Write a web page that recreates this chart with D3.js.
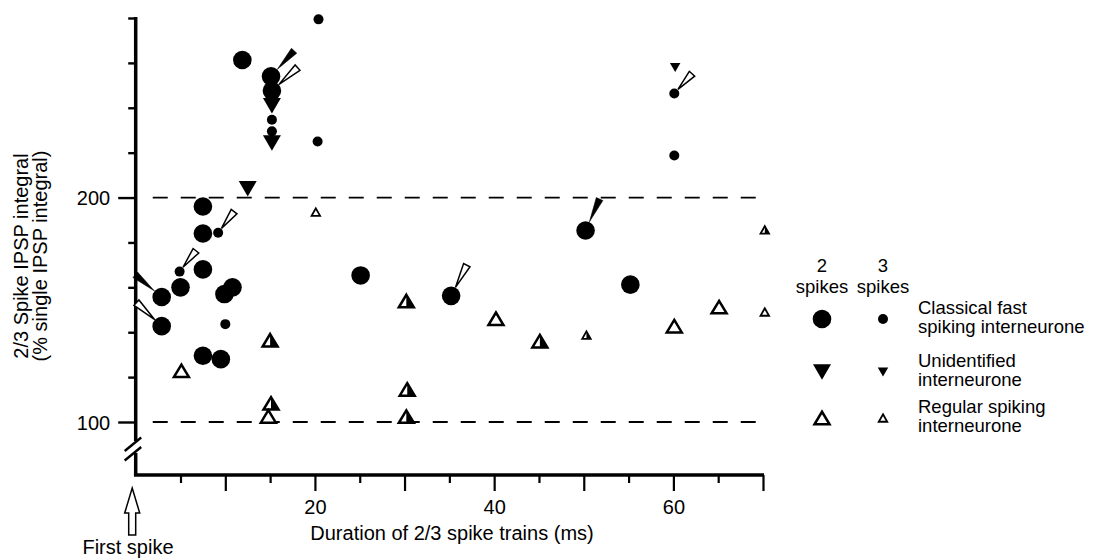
<!DOCTYPE html>
<html>
<head>
<meta charset="utf-8">
<script src="https://cdn.jsdelivr.net/npm/d3@7"></script>
<style>
  body { margin: 0; background: #fff; }
  svg { display: block; font-family: 'Liberation Sans', Arial, Helvetica, sans-serif; }
</style>
</head>
<body>
<svg id="chart" width="1097" height="560"></svg>
<script>
// [duration of 2/3 spike train (ms), 2/3 spike IPSP integral (% single IPSP integral)]
const fastTwo = [
  [2.9, 155.7], [2.9, 142.7], [5.0, 160.0], [7.5, 196.0], [7.5, 184.0],
  [7.5, 168.0], [7.5, 129.5], [9.5, 128.0], [9.9, 157.0], [10.8, 160.0],
  [11.9, 261.3], [15.1, 254.0], [15.2, 247.6], [25.1, 165.3], [35.2, 156.2],
  [50.2, 185.3], [55.2, 161.2],
];
const fastThree = [
  [4.9, 167.0], [9.2, 184.3], [10.0, 143.6], [15.2, 234.7], [15.2, 229.5],
  [20.3, 225.0], [20.4, 279.4], [60.1, 246.4], [60.1, 218.7],
];
const unidTwo = [[12.5, 203.9], [15.2, 240.9], [15.2, 224.3]];
const unidThree = [[60.2, 258.0]];
const regularTwo = [[5.1, 122.8], [14.8, 102.5], [40.2, 146.0], [60.1, 142.7], [65.1, 151.2]];
const regularThree = [[20.1, 193.5], [70.2, 149.0]];
const halfTwo = [[15.0, 136.4], [15.1, 108.3], [30.2, 153.9], [30.3, 114.5], [30.2, 102.4], [45.1, 136.0]];
const halfThree = [[50.3, 138.7], [70.2, 185.6]];

// identification pointers drawn next to some points (angle in degrees on screen)
const pointers = [
  { x: 2.9, y: 155.7, kind: 'filled', big: true, angle: -140 },
  { x: 2.9, y: 142.7, kind: 'open', big: true, angle: -137 },
  { x: 4.9, y: 167.0, kind: 'open', big: false, angle: -52 },
  { x: 9.2, y: 184.3, kind: 'open', big: false, angle: -53 },
  { x: 15.1, y: 254.0, kind: 'filled', big: true, angle: -48 },
  { x: 15.2, y: 247.6, kind: 'open', big: true, angle: -42 },
  { x: 35.2, y: 156.2, kind: 'open', big: true, angle: -63 },
  { x: 50.2, y: 185.3, kind: 'filled', big: true, angle: -66 },
  { x: 60.1, y: 246.4, kind: 'open', big: false, angle: -48 },
];

const refLines = [100, 200];
const xTicks = d3.range(5, 75, 5);
const yTicks = d3.range(100, 281, 20);
const legendCols = ['2', '3'];
const legendRows = [
  { shape: 'circle', label: ['Classical fast', 'spiking interneurone'] },
  { shape: 'down', label: ['Unidentified', 'interneurone'] },
  { shape: 'open', label: ['Regular spiking', 'interneurone'] },
];

const series = [
  { data: halfTwo, shape: 'half', big: true },
  { data: halfThree, shape: 'half', big: false },
  { data: regularTwo, shape: 'open', big: true },
  { data: regularThree, shape: 'open', big: false },
  { data: fastTwo, shape: 'circle', big: true },
  { data: fastThree, shape: 'circle', big: false },
  { data: unidTwo, shape: 'down', big: true },
  { data: unidThree, shape: 'down', big: false },
];

const svg = d3.select('#chart');
const x = d3.scaleLinear().domain([0, 70]).range([135.7, 763]);
const y = d3.scaleLinear().domain([100, 280]).range([422, 18]);
const axisX = x(0);
const axisY = y(100) + 53;

const drawMarker = (g, shape, big) => {
  if (shape === 'circle') {
    g.append('circle').attr('r', big ? 9.3 : 5).attr('fill', '#000');
  } else if (shape === 'down') {
    const w = big ? 18 : 10.5;
    const h = big ? 15.5 : 9;
    g.append('path').attr('d', `M${-w / 2},${-h / 2}H${w / 2}L0,${h / 2}Z`).attr('fill', '#000');
  } else {
    const w = big ? 15 : 8.5;
    const h = big ? 12.5 : 7.5;
    g.append('path')
      .attr('d', `M0,${-h / 2}L${w / 2},${h / 2}H${-w / 2}Z`)
      .attr('fill', '#fff');
    if (shape === 'half') {
      g.append('path').attr('d', `M0,${-h / 2}L${w / 2},${h / 2}H0Z`).attr('fill', '#000');
    }
    g.append('path')
      .attr('d', `M0,${-h / 2}L${w / 2},${h / 2}H${-w / 2}Z`)
      .attr('fill', 'none')
      .attr('stroke', '#000')
      .attr('stroke-width', big ? 2.5 : 1.8);
  }
};

// x axis
const gx = svg.append('g')
  .attr('transform', `translate(0,${axisY})`)
  .call(d3.axisBottom(x).tickValues(xTicks).tickSize(0).tickFormat((d) => (d % 20 === 0 ? d : '')));
gx.attr('font-family', null).attr('font-size', null);
gx.select('.domain').remove();
gx.selectAll('.tick line')
  .attr('y2', (d) => (d % 10 === 0 ? 16 : 8))
  .attr('stroke', '#000')
  .attr('stroke-width', 2.2);
gx.selectAll('.tick text')
  .attr('y', 39)
  .attr('dy', 0)
  .attr('fill', '#000')
  .style('font-size', '20px');

// y axis
const gy = svg.append('g')
  .attr('transform', `translate(${axisX},0)`)
  .call(d3.axisLeft(y).tickValues(yTicks).tickSize(0).tickFormat((d) => (d % 100 === 0 ? d : '')));
gy.attr('font-family', null).attr('font-size', null);
gy.select('.domain').remove();
gy.selectAll('.tick line')
  .attr('x2', (d) => (d % 100 === 0 ? -17.5 : -7.5))
  .attr('stroke', '#000')
  .attr('stroke-width', 2.4);
gy.selectAll('.tick text')
  .attr('x', -25.5)
  .attr('dy', '0.35em')
  .attr('fill', '#000')
  .style('font-size', '20px');

// axis lines with the break on y
const axes = svg.append('g').attr('stroke', '#000').attr('fill', 'none');
axes.append('line')
  .attr('x1', axisX).attr('x2', axisX)
  .attr('y1', y(280) - 1).attr('y2', y(100) + 19)
  .attr('stroke-width', 3.5);
axes.append('line')
  .attr('x1', axisX).attr('x2', axisX)
  .attr('y1', y(100) + 31).attr('y2', axisY)
  .attr('stroke-width', 3.5);
[0, 9.5].forEach((off) => {
  axes.append('line')
    .attr('x1', axisX - 11).attr('y1', y(100) + 29 + off)
    .attr('x2', axisX + 5.5).attr('y2', y(100) + 15.5 + off)
    .attr('stroke-width', 2.4);
});
axes.append('line')
  .attr('x1', axisX - 1.75).attr('x2', x(70) + 1)
  .attr('y1', axisY).attr('y2', axisY)
  .attr('stroke-width', 3.5);

// dashed reference lines
svg.append('g').selectAll('line')
  .data(refLines)
  .join('line')
  .attr('x1', x(1.9))
  .attr('x2', x(70))
  .attr('y1', (d) => y(d))
  .attr('y2', (d) => y(d))
  .attr('stroke', '#000')
  .attr('stroke-width', 1.8)
  .attr('stroke-dasharray', '15,13');

// points
const plot = svg.append('g');
series.forEach((s) => {
  s.data.forEach(([dx, dy]) => {
    const g = plot.append('g').attr('transform', `translate(${x(dx)},${y(dy)})`);
    drawMarker(g, s.shape, s.big);
  });
});

// pointers
plot.selectAll('.pointer')
  .data(pointers)
  .join('path')
  .attr('class', 'pointer')
  .attr('transform', (d) => `translate(${x(d.x)},${y(d.y)}) rotate(${d.angle})`)
  .attr('d', (d) => {
    const r0 = d.big ? 9.5 : 5.5;
    const len = d.big ? 25 : 21;
    return `M${r0},0L${r0 + len},-3.6L${r0 + len},3.6Z`;
  })
  .attr('fill', (d) => (d.kind === 'filled' ? '#000' : '#fff'))
  .attr('stroke', '#000')
  .attr('stroke-width', (d) => (d.kind === 'filled' ? 0.5 : 1.5));

// axis titles
svg.append('text')
  .attr('x', 452)
  .attr('y', 540)
  .attr('text-anchor', 'middle')
  .style('font-size', '20px')
  .text('Duration of 2/3 spike trains (ms)');

const yTitle = svg.append('g').style('font-size', '20px').attr('text-anchor', 'middle');
[['2/3 Spike IPSP integral', 28], ['(% single IPSP integral)', 47]].forEach(([t, bx]) => {
  yTitle.append('text')
    .attr('transform', `translate(${bx},256) rotate(-90)`)
    .text(t);
});

// first spike arrow
const ax = axisX - 3.5;
svg.append('path')
  .attr('d', `M${ax},488L${ax + 7.5},513H${ax + 3.5}V535H${ax - 3.5}V513H${ax - 7.5}Z`)
  .attr('fill', '#fff')
  .attr('stroke', '#000')
  .attr('stroke-width', 1.5);
svg.append('text')
  .attr('x', 128)
  .attr('y', 554)
  .attr('text-anchor', 'middle')
  .style('font-size', '20px')
  .text('First spike');

// legend
const legend = svg.append('g').style('font-size', '18.5px');
const colX = [822, 883];
legendCols.forEach((c, i) => {
  legend.append('text').attr('x', colX[i]).attr('y', 272).attr('text-anchor', 'middle').text(c);
  legend.append('text').attr('x', colX[i]).attr('y', 293).attr('text-anchor', 'middle').text('spikes');
});
const rowY = [319, 372, 418];
legendRows.forEach((row, i) => {
  colX.forEach((cx, j) => {
    const g = legend.append('g').attr('transform', `translate(${cx},${rowY[i]})`);
    drawMarker(g, row.shape, j === 0);
  });
  row.label.forEach((line, k) => {
    legend.append('text')
      .attr('x', 918)
      .attr('y', rowY[i] - 5 + k * 19)
      .text(line);
  });
});
</script>
</body>
</html>
